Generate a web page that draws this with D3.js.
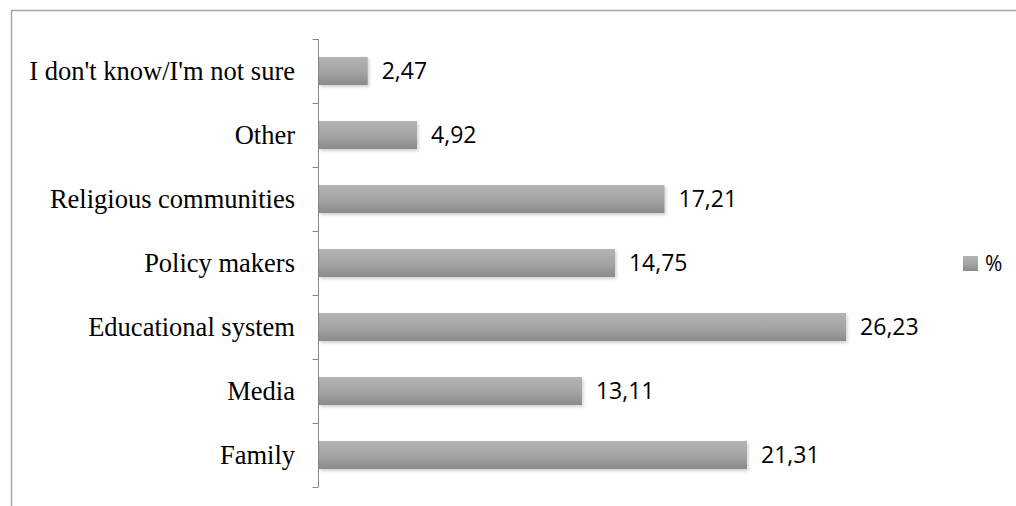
<!DOCTYPE html>
<html>
<head>
<meta charset="utf-8">
<script src="https://cdn.jsdelivr.net/npm/d3@7"></script>
<style>
  html, body { margin: 0; padding: 0; background: #fff; }
  svg { display: block; }
</style>
</head>
<body>
<svg id="chart" width="1016" height="506"></svg>
<script>
// Categories from top to bottom, with their percentages
const categories = [
  "I don't know/I'm not sure",
  "Other",
  "Religious communities",
  "Policy makers",
  "Educational system",
  "Media",
  "Family"
];
const values = [2.47, 4.92, 17.21, 14.75, 26.23, 13.11, 21.31];
const valueLabels = ["2,47", "4,92", "17,21", "14,75", "26,23", "13,11", "21,31"];
const seriesName = "%";

const svg = d3.select("#chart");

// Outer chart frame
svg.append("rect")
  .attr("x", 11.5).attr("y", 10.5)
  .attr("width", 1016).attr("height", 506)
  .attr("fill", "none")
  .attr("stroke", "#a6a6a6")
  .attr("stroke-width", 1.5);

const defs = svg.append("defs");
const grad = defs.append("linearGradient")
  .attr("id", "barFill").attr("x1", 0).attr("y1", 0).attr("x2", 0).attr("y2", 1);
grad.append("stop").attr("offset", "0%").attr("stop-color", "#b4b4b4");
grad.append("stop").attr("offset", "55%").attr("stop-color", "#a3a3a3");
grad.append("stop").attr("offset", "100%").attr("stop-color", "#8a8a8a");

const shadow = defs.append("filter").attr("id", "barShadow")
  .attr("x", "-5%").attr("y", "-30%").attr("width", "115%").attr("height", "170%");
shadow.append("feDropShadow")
  .attr("dx", 1.5).attr("dy", 2).attr("stdDeviation", 1.5)
  .attr("flood-color", "#000").attr("flood-opacity", 0.18);

const x = d3.scaleLinear().domain([0, 30]).range([318, 922]);
const y = d3.scaleBand().domain(categories).range([39, 487]).paddingInner(0.56).paddingOuter(0.28);

// Category axis with tick marks at band boundaries
const axisX = 318.5;
svg.append("line")
  .attr("x1", axisX).attr("x2", axisX)
  .attr("y1", 39).attr("y2", 487)
  .attr("stroke", "#868686").attr("stroke-width", 1);

const step = (487 - 39) / categories.length;
const tickYs = d3.range(categories.length + 1).map(i => 39 + i * step);
svg.selectAll("line.tick").data(tickYs).join("line")
  .attr("class", "tick")
  .attr("x1", axisX - 6).attr("x2", axisX)
  .attr("y1", d => Math.round(d) + 0.5).attr("y2", d => Math.round(d) + 0.5)
  .attr("stroke", "#868686").attr("stroke-width", 1);

// Category labels
svg.selectAll("text.cat").data(categories).join("text")
  .attr("class", "cat")
  .attr("x", 295)
  .attr("y", d => y(d) + y.bandwidth() / 2)
  .attr("dy", "0.35em")
  .attr("text-anchor", "end")
  .attr("font-family", "'Liberation Serif', 'Times New Roman', serif")
  .attr("font-size", 26.5)
  .attr("fill", "#000")
  .text(d => d);

// Bars
svg.selectAll("rect.bar").data(values).join("rect")
  .attr("class", "bar")
  .attr("x", x(0) + 1)
  .attr("y", (d, i) => y(categories[i]))
  .attr("width", d => x(d) - x(0) - 1)
  .attr("height", y.bandwidth())
  .attr("fill", "url(#barFill)")
  .attr("filter", "url(#barShadow)");

// Value labels
svg.selectAll("text.val").data(values).join("text")
  .attr("class", "val")
  .attr("x", d => x(d) + 14)
  .attr("y", (d, i) => y(categories[i]) + y.bandwidth() / 2)
  .attr("dy", "0.35em")
  .attr("font-family", "'Open Sans', 'Noto Sans', sans-serif")
  .attr("font-size", 23)
  .attr("fill", "#000")
  .text((d, i) => valueLabels[i]);

// Legend
const legend = svg.append("g").attr("transform", "translate(963,256)");
legend.append("rect")
  .attr("width", 15).attr("height", 15)
  .attr("fill", "url(#barFill)");
legend.append("text")
  .attr("x", 22).attr("y", 7.5).attr("dy", "0.35em")
  .attr("font-family", "'Open Sans', 'Noto Sans', sans-serif")
  .attr("font-size", 21)
  .attr("fill", "#000")
  .text(seriesName);
</script>
</body>
</html>
